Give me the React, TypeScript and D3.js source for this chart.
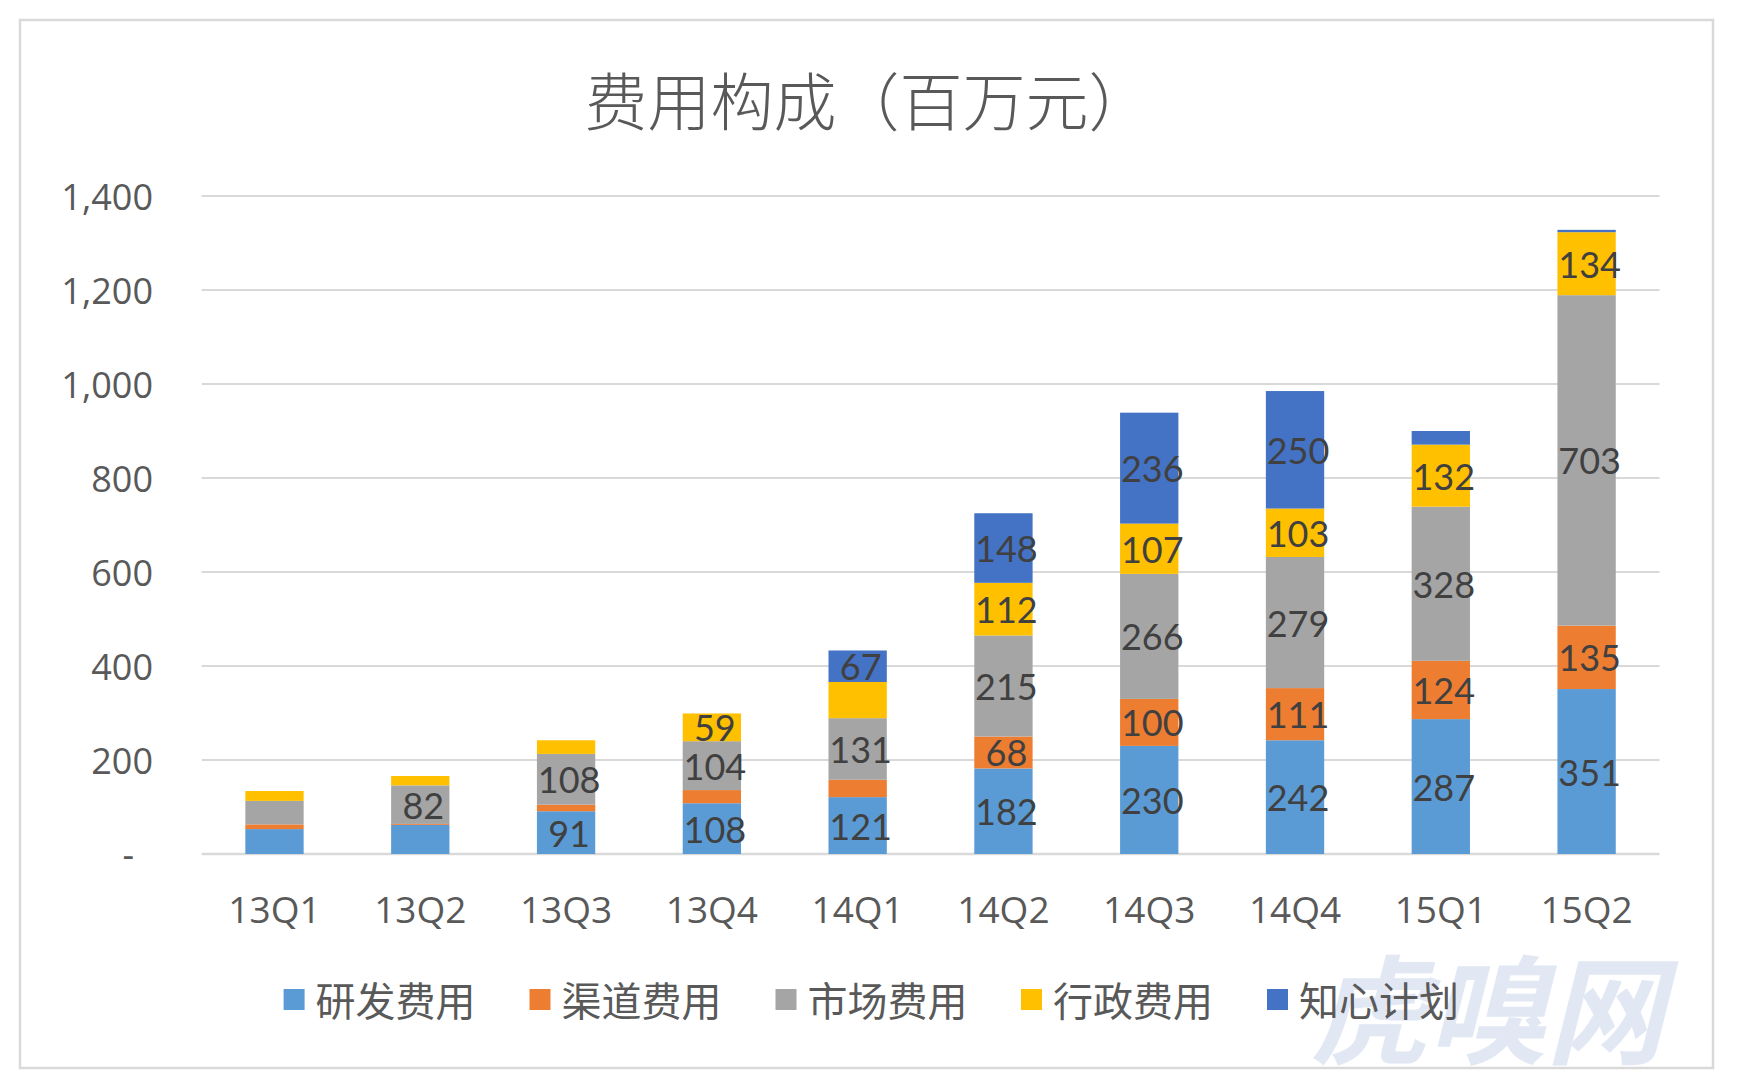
import React from "react";
import * as d3 from "d3";

const categories = ["13Q1", "13Q2", "13Q3", "13Q4", "14Q1", "14Q2", "14Q3", "14Q4", "15Q1", "15Q2"];
const seriesNames = ["研发费用", "渠道费用", "市场费用", "行政费用", "知心计划"];
const rd = [53, 62, 91, 108, 121, 182, 230, 242, 287, 351];
const channel = [10, 2, 14, 28, 37, 68, 100, 111, 124, 135];
const market = [50, 82, 108, 104, 131, 215, 266, 279, 328, 703];
const admin = [21, 20, 29, 59, 77, 112, 107, 103, 132, 134];
const zhixin = [0, 0, 0, 0, 67, 148, 236, 250, 29, 5];
// which segment labels are displayed (1 = shown)
const showRd = [0, 0, 1, 1, 1, 1, 1, 1, 1, 1];
const showChannel = [0, 0, 0, 0, 0, 1, 1, 1, 1, 1];
const showMarket = [0, 1, 1, 1, 1, 1, 1, 1, 1, 1];
const showAdmin = [0, 0, 0, 1, 0, 1, 1, 1, 1, 1];
const showZhixin = [0, 0, 0, 0, 1, 1, 1, 1, 0, 0];
const yTicks = [0, 200, 400, 600, 800, 1000, 1200, 1400];
const colors = ["#5B9BD5", "#ED7D31", "#A5A5A5", "#FFC000", "#4472C4"];
const title = "费用构成（百万元）";
const watermark = "虎嗅网";

const seriesValues = [rd, channel, market, admin, zhixin];
const seriesShow = [showRd, showChannel, showMarket, showAdmin, showZhixin];

export default function App() {
  const W = 1737, H = 1078;
  const x = d3.scaleBand<string>().domain(categories).range([201.6, 1659.5]).paddingInner(0.6).paddingOuter(0.3);
  const y = d3.scaleLinear().domain([0, 1400]).range([854, 196]);

  const rows = categories.map((c, i) => {
    const o: any = { cat: c };
    seriesNames.forEach((s, k) => (o[s] = seriesValues[k][i]));
    return o;
  });
  const stacked = d3.stack<any>().keys(seriesNames)(rows);
  const fmt = d3.format(",");
  const cjk = "'Noto Sans CJK SC', 'Noto Sans', sans-serif";
  const num = "'Open Sans', 'Noto Sans', sans-serif";
  const lbl = "Lato, 'Open Sans', sans-serif";

  const legendX = [283.6, 529.5, 775.5, 1021, 1267];

  return (
    <svg width={W} height={H} style={{ position: "absolute", left: 0, top: 0, background: "#fff" }}>
      <rect x={0} y={0} width={W} height={H} fill="#fff" />
      <rect x={20} y={20} width={1693} height={1048} fill="#fff" stroke="#d9d9d9" strokeWidth={2.5} />
      <text x={868} y={97} textAnchor="middle" dominantBaseline="central" fontFamily={cjk} fontWeight={300} fontSize={63} fill="#595959">
        {title}
      </text>
      {yTicks.map((t) => (
        <g key={t}>
          <line x1={201.6} x2={1659.5} y1={y(t)} y2={y(t)} stroke="#d9d9d9" strokeWidth={t === 0 ? 2.5 : 2} />
          <text x={t === 0 ? 134 : 153} y={y(t)} textAnchor="end" dominantBaseline="central" fontFamily={num} fontSize={36} fill="#595959">
            {t === 0 ? "-" : fmt(t)}
          </text>
        </g>
      ))}
      {stacked.map((s, k) => (
        <g key={s.key}>
          {s.map((d, i) =>
            d[1] - d[0] > 0 ? (
              <rect key={i} x={x(categories[i])} width={x.bandwidth()} y={y(d[1])} height={y(d[0]) - y(d[1])} fill={colors[k]} />
            ) : null
          )}
        </g>
      ))}
      {stacked.map((s, k) => (
        <g key={"l" + s.key}>
          {s.map((d, i) =>
            seriesShow[k][i] ? (
              <text key={i} x={(x(categories[i]) as number) + x.bandwidth() / 2 + 3} y={y((d[0] + d[1]) / 2)} textAnchor="middle" dominantBaseline="central" fontFamily={lbl} fontSize={36} fill="#404040">
                {seriesValues[k][i]}
              </text>
            ) : null
          )}
        </g>
      ))}
      {categories.map((c) => (
        <text key={c} x={(x(c) as number) + x.bandwidth() / 2} y={908} textAnchor="middle" dominantBaseline="central" fontFamily={num} fontSize={37} fill="#595959">
          {c}
        </text>
      ))}
      <text x={1487} y={1003} textAnchor="middle" dominantBaseline="central" fontFamily={cjk} fontWeight={700} fontStyle="italic" fontSize={118} fill="#c5d3ea" opacity={0.5}>
        {watermark}
      </text>
      {seriesNames.map((s, k) => (
        <g key={s}>
          <rect x={legendX[k]} y={989} width={21} height={21} fill={colors[k]} />
          <text x={legendX[k] + 32} y={999} dominantBaseline="central" fontFamily={cjk} fontSize={40} fill="#595959">
            {s}
          </text>
        </g>
      ))}
    </svg>
  );
}
